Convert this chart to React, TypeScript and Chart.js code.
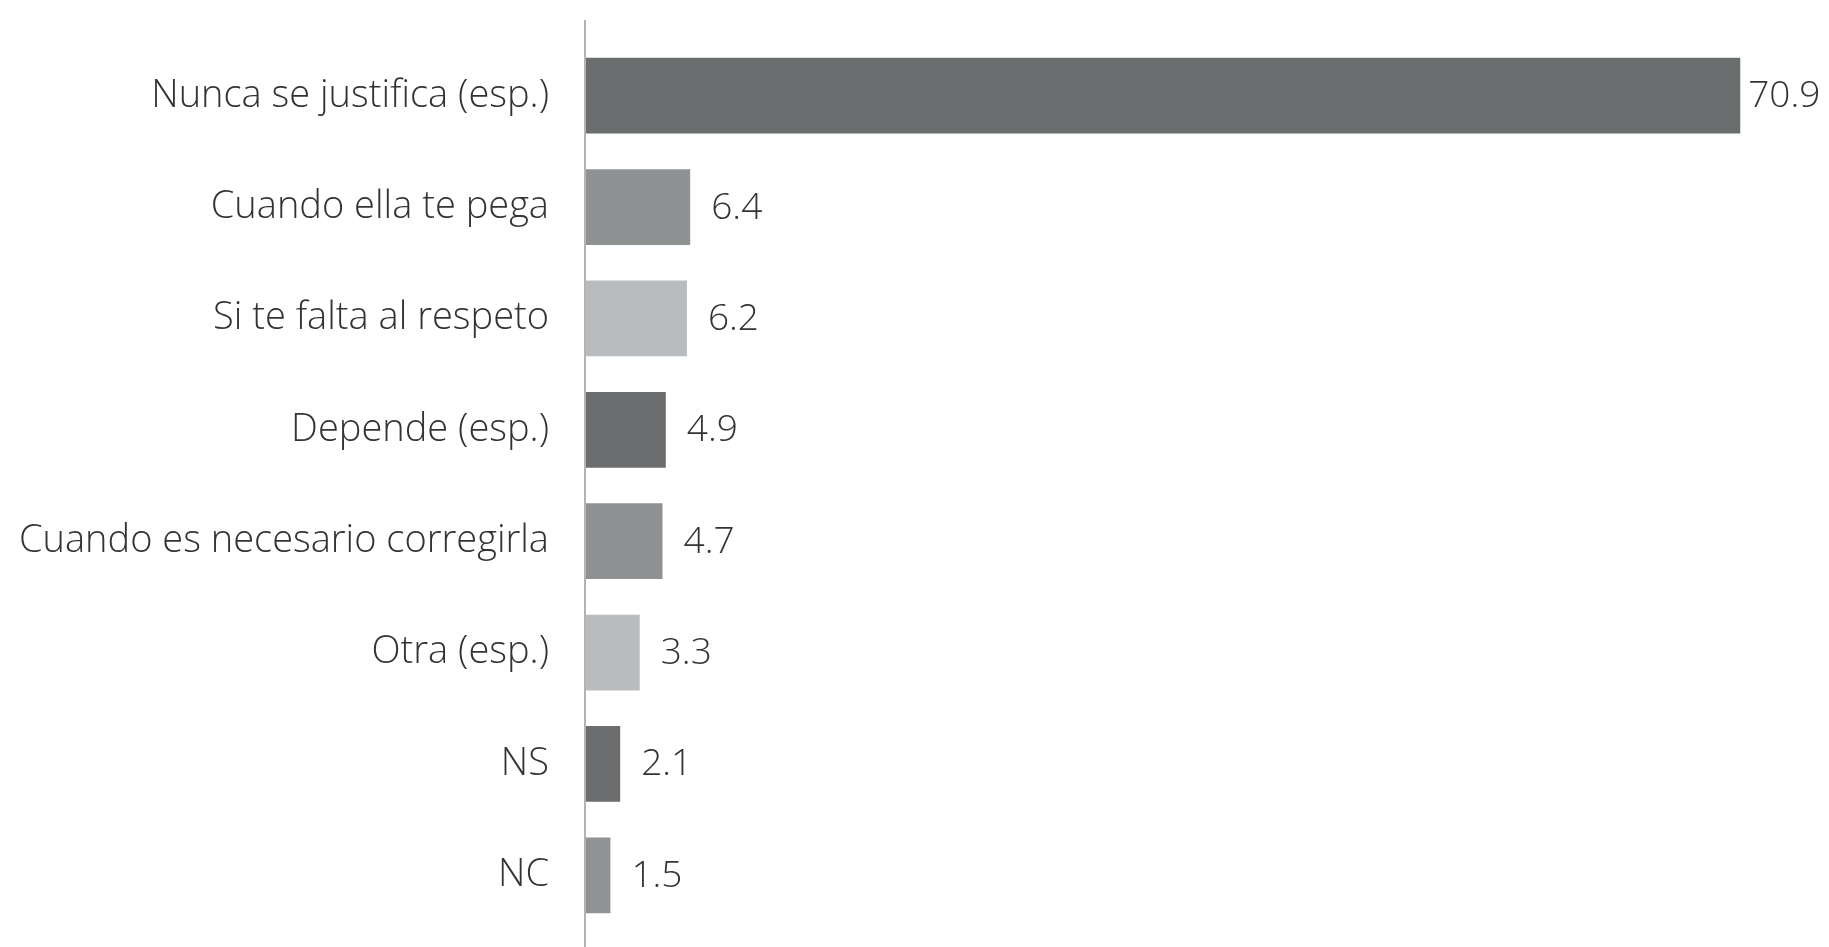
import React, { useEffect, useRef } from "react";
import { Chart, registerables } from "chart.js";

Chart.register(...registerables);

const categories = [
  "Nunca se justifica (esp.)",
  "Cuando ella te pega",
  "Si te falta al respeto",
  "Depende (esp.)",
  "Cuando es necesario corregirla",
  "Otra (esp.)",
  "NS",
  "NC",
];
const values = [70.9, 6.4, 6.2, 4.9, 4.7, 3.3, 2.1, 1.5];
const valueLabels = ["70.9", "6.4", "6.2", "4.9", "4.7", "3.3", "2.1", "1.5"];
const barColors = [
  "#6b6e6f",
  "#8f9293",
  "#b9bcbe",
  "#6a6c6d",
  "#8f9192",
  "#b9bcbe",
  "#6b6d6e",
  "#909293",
];

const FONT = "'Open Sans', Lato, sans-serif";

const overlay = {
  id: "overlay",
  afterDatasetsDraw(chart: any) {
    const ctx = chart.ctx;
    const x0 = chart.scales.x.getPixelForValue(0);
    ctx.save();
    ctx.strokeStyle = "#9a9a9a";
    ctx.lineWidth = 1.5;
    ctx.beginPath();
    ctx.moveTo(x0 - 1, 20);
    ctx.lineTo(x0 - 1, chart.height);
    ctx.stroke();
    const meta = chart.getDatasetMeta(0);
    ctx.fillStyle = "#333333";
    ctx.font = `300 37px ${FONT}`;
    ctx.textBaseline = "middle";
    ctx.textAlign = "left";
    meta.data.forEach((bar: any, i: number) => {
      const off = i === 0 ? 8 : 21;
      ctx.fillText(valueLabels[i], bar.x + off, bar.y + 1);
    });
    ctx.restore();
  },
};

export default function App() {
  const ref = useRef<HTMLCanvasElement | null>(null);
  useEffect(() => {
    document.body.style.margin = "0";
    const chart = new Chart(ref.current as HTMLCanvasElement, {
      type: "bar",
      data: {
        labels: categories,
        datasets: [
          {
            data: values,
            backgroundColor: barColors,
            borderWidth: 0,
            categoryPercentage: 1,
            barPercentage: 0.68,
          },
        ],
      },
      options: {
        indexAxis: "y",
        animation: false,
        responsive: false,
        maintainAspectRatio: false,
        layout: { padding: { top: 40, bottom: 16, right: 22, left: 0 } },
        plugins: { legend: { display: false }, tooltip: { enabled: false } },
        scales: {
          x: { display: false, min: 0, max: 75 },
          y: {
            afterFit(scale: any) {
              scale.width = 586;
              scale.paddingTop = 0;
              scale.paddingBottom = 0;
            },
            grid: { display: false, drawTicks: false },
            border: { display: false },
            ticks: {
              padding: 37,
              color: "#333333",
              font: { family: FONT, size: 38, weight: "300" as any },
            },
          },
        },
      },
      plugins: [overlay],
    });
    return () => chart.destroy();
  }, []);
  return (
    <div style={{ position: "absolute", left: 0, top: 0, width: 1829, height: 947, background: "#fff" }}>
      <canvas ref={ref} width={1829} height={947} style={{ width: 1829, height: 947, display: "block" }} />
    </div>
  );
}
